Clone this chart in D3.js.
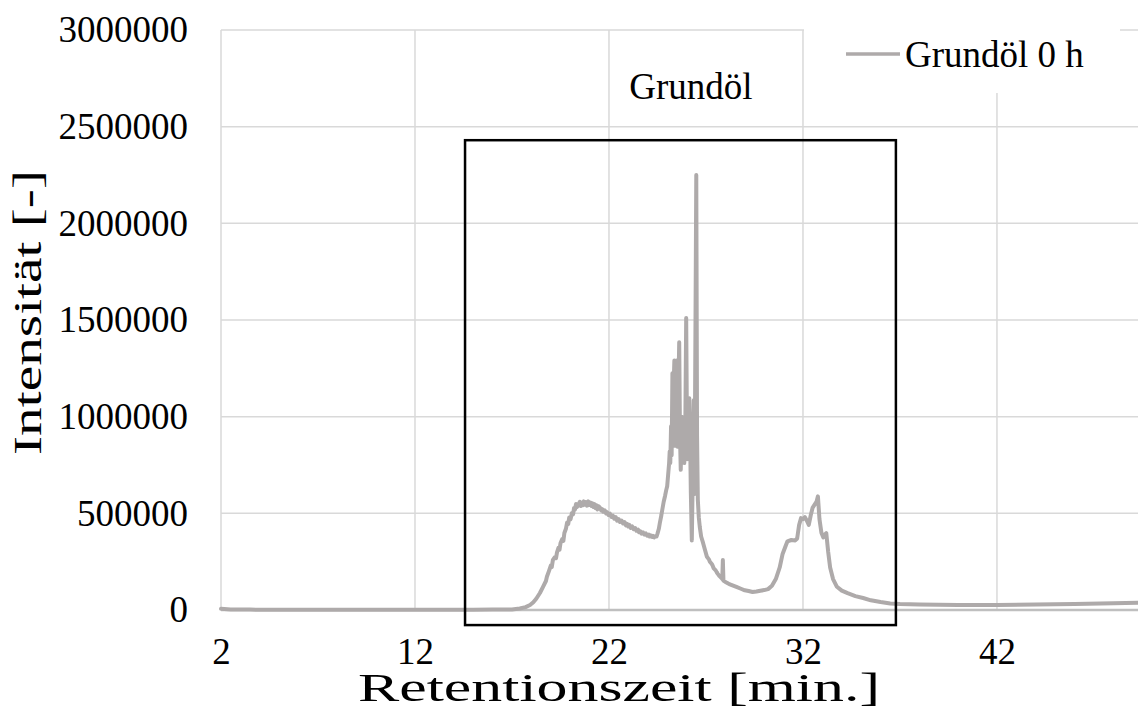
<!DOCTYPE html>
<html>
<head>
<meta charset="utf-8">
<script src="https://cdn.jsdelivr.net/npm/d3@7"></script>
<style>
  html, body { margin: 0; padding: 0; background: #ffffff; }
  svg { display: block; }
  text { font-family: "Liberation Serif", "Times New Roman", serif; fill: #000; }
</style>
</head>
<body>
<svg id="chart" width="1138" height="711"></svg>
<script>
// Chromatogram of the base oil at 0 h: retention time [min] and detector intensity
const retentionTime = [
  2.0, 2.5, 3.5, 5, 7, 9, 11, 13, 15, 16, 16.6, 17.0, 17.4, 17.7, 17.93, 18.1, 18.25, 18.44, 18.6, 18.75,
  18.8, 18.9, 19.0, 19.05, 19.11, 19.2, 19.27, 19.32, 19.4, 19.45, 19.5, 19.58, 19.65, 19.7, 19.78, 19.84,
  19.9, 19.95, 20.02, 20.09, 20.15, 20.2, 20.25, 20.3, 20.35, 20.42, 20.5, 20.55, 20.6, 20.66, 20.7, 20.77,
  20.82, 20.87, 20.93, 21.0, 21.05, 21.1, 21.15, 21.2, 21.25, 21.3, 21.36, 21.4, 21.47, 21.54, 21.6, 21.65,
  21.7, 21.78, 21.85, 21.9, 21.97, 22.05, 22.12, 22.2, 22.27, 22.35, 22.42, 22.5, 22.57, 22.65, 22.72, 22.8,
  22.87, 22.93, 23.0, 23.05, 23.12, 23.2, 23.27, 23.35, 23.42, 23.5, 23.55, 23.6, 23.68, 23.75, 23.82, 23.9,
  23.97, 24.05, 24.1, 24.15, 24.22, 24.27, 24.33, 24.4, 24.45, 24.5, 24.57, 24.63, 24.7, 24.75, 24.82, 24.89,
  24.95, 25.0, 25.05, 25.1, 25.13, 25.16, 25.2, 25.23, 25.27, 25.3, 25.33, 25.37, 25.41, 25.45, 25.49, 25.53,
  25.57, 25.62, 25.66, 25.7, 25.75, 25.79, 25.83, 25.88, 25.93, 25.98, 26.03, 26.07, 26.1, 26.14, 26.18,
  26.22, 26.27, 26.32, 26.37, 26.41, 26.46, 26.5, 26.54, 26.58, 26.63, 26.68, 26.75, 26.85, 26.95, 27.05,
  27.15, 27.2, 27.3, 27.35, 27.4, 27.5, 27.55, 27.6, 27.7, 27.8, 27.84, 27.87, 27.9, 28.0, 28.1, 28.2, 28.3,
  28.4, 28.5, 28.6, 28.8, 29.0, 29.2, 29.4, 29.6, 29.8, 30.0, 30.2, 30.4, 30.6, 30.8, 30.95, 31.1, 31.2,
  31.4, 31.6, 31.7, 31.8, 31.9, 32.0, 32.1, 32.2, 32.3, 32.4, 32.5, 32.6, 32.7, 32.77, 32.85, 32.95, 33.05,
  33.12, 33.2, 33.3, 33.4, 33.55, 33.75, 34.0, 34.3, 34.7, 35.1, 35.5, 36.0, 36.5, 37, 38, 40, 42, 44, 46,
  48, 49.3
];
const intensity = [
  6000, 3000, 2000, 1500, 1200, 1000, 900, 900, 1000, 2000, 3000, 3000, 8000, 15000, 26000, 40000, 58000, 88000, 120000, 150000,
  172000, 200000, 230000, 222000, 259000, 272000, 268000, 298000, 322000, 312000, 345000, 365000, 358000, 398000, 420000, 452000,
  445000, 478000, 470000, 502000, 495000, 528000, 520000, 548000, 532000, 545000, 560000, 538000, 555000, 542000, 562000, 545000,
  558000, 540000, 562000, 543000, 556000, 538000, 552000, 533000, 548000, 528000, 542000, 520000, 536000, 528000, 515000, 522000,
  508000, 515000, 500000, 506000, 492000, 498000, 482000, 488000, 472000, 480000, 462000, 470000, 455000, 462000, 448000, 455000,
  438000, 446000, 432000, 440000, 425000, 432000, 418000, 424000, 410000, 416000, 402000, 408000, 395000, 402000, 390000, 396000,
  384000, 390000, 380000, 386000, 378000, 384000, 376000, 382000, 380000, 395000, 420000, 455000, 490000, 520000, 560000, 590000,
  620000, 640000, 700000, 760000, 820000, 760000, 950000, 800000, 1225000, 900000, 1150000, 1290000, 850000, 1000000, 1290000, 845000,
  1100000, 1385000, 900000, 725000, 1000000, 800000, 950000, 760000, 900000, 1510000, 780000, 1000000, 800000, 1095000, 900000,
  605000, 360000, 700000, 1085000, 600000, 1500000, 2250000, 900000, 570000, 480000, 430000, 380000, 347000, 310000, 275000,
  262000, 250000, 238000, 228000, 215000, 205000, 196000, 188000, 175000, 165000, 160000, 258000, 152000, 145000, 140000, 134000, 130000,
  126000, 122000, 118000, 110000, 102000, 98000, 93000, 96000, 100000, 103000, 108000, 125000, 160000, 220000, 290000, 330000, 355000,
  362000, 360000, 370000, 440000, 475000, 470000, 480000, 462000, 440000, 490000, 530000, 545000, 560000, 588000, 470000, 400000, 375000,
  390000, 398000, 300000, 220000, 160000, 120000, 100000, 87000, 72000, 62000, 50000, 41000, 34000, 31000, 28000, 26000, 26000, 28000, 31000,
  35000, 38000
];

const seriesName = "Grundöl 0 h";
const regionLabel = "Grundöl";
const regionSpan = [14.58, 36.79];          // retention window of the base oil
const regionIntensity = [-78000, 2430000];  // vertical extent of the framing box
const xTicks = [2, 12, 22, 32, 42];
const yTicks = [0, 500000, 1000000, 1500000, 2000000, 2500000, 3000000];
const xTitle = "Retentionszeit [min.]";
const yTitle = "Intensität [-]";

const data = retentionTime.map((t, i) => ({ t, v: intensity[i] }));

const svg = d3.select("#chart");
const plot = { left: 221, right: 1138, top: 30, bottom: 610 };

const x = d3.scaleLinear().domain([2, 49.27]).range([plot.left, plot.right]);
const y = d3.scaleLinear().domain([0, 3000000]).range([plot.bottom, plot.top]);

const gridColor = "#d9d9d9";
const fontSize = 37;
const titleSize = 40;

// Gridlines
svg.append("g").selectAll("line").data(yTicks.filter(d => d > 0)).join("line")
  .attr("x1", plot.left).attr("x2", plot.right)
  .attr("y1", d => y(d)).attr("y2", d => y(d))
  .attr("stroke", gridColor).attr("stroke-width", 1.5);
svg.append("g").selectAll("line").data(xTicks).join("line")
  .attr("x1", d => x(d)).attr("x2", d => x(d))
  .attr("y1", plot.top).attr("y2", plot.bottom)
  .attr("stroke", gridColor).attr("stroke-width", 1.5);

// Horizontal axis line
svg.append("line")
  .attr("x1", plot.left).attr("x2", plot.right)
  .attr("y1", y(0)).attr("y2", y(0))
  .attr("stroke", "#bfbfbf").attr("stroke-width", 2.5);

// Axis labels
const yAxis = d3.axisLeft(y).tickValues(yTicks).tickSize(0).tickPadding(33).tickFormat(d3.format("d"));
const yg = svg.append("g").attr("transform", `translate(${plot.left},0)`).call(yAxis);
yg.select(".domain").remove();
yg.selectAll("text").style("font-size", fontSize + "px").style("font-family", "Liberation Serif");

const xAxis = d3.axisBottom(x).tickValues(xTicks).tickSize(0).tickPadding(28).tickFormat(d3.format("d"));
const xg = svg.append("g").attr("transform", `translate(0,${plot.bottom})`).call(xAxis);
xg.select(".domain").remove();
xg.selectAll("text").style("font-size", fontSize + "px").style("font-family", "Liberation Serif");

// Series line
const line = d3.line().x(d => x(d.t)).y(d => y(d.v));
svg.append("path").datum(data)
  .attr("d", line)
  .attr("fill", "none")
  .attr("stroke", "#aeaaaa")
  .attr("stroke-width", 4)
  .attr("stroke-linejoin", "round")
  .attr("stroke-linecap", "round");

// Box framing the base-oil region
svg.append("rect")
  .attr("x", x(regionSpan[0])).attr("y", y(regionIntensity[1]))
  .attr("width", x(regionSpan[1]) - x(regionSpan[0]))
  .attr("height", y(regionIntensity[0]) - y(regionIntensity[1]))
  .attr("fill", "none").attr("stroke", "#000").attr("stroke-width", 2.5);

svg.append("text")
  .attr("x", 691)
  .attr("y", 99)
  .attr("text-anchor", "middle")
  .style("font-size", fontSize + "px")
  .text(regionLabel);

// Legend
const lg = svg.append("g");
lg.append("rect").attr("x", 804).attr("y", 0).attr("width", 316).attr("height", 93).attr("fill", "#fff");
lg.append("line").attr("x1", 846).attr("x2", 900).attr("y1", 54).attr("y2", 54)
  .attr("stroke", "#aeaaaa").attr("stroke-width", 3.6);
lg.append("text").attr("x", 905).attr("y", 67).style("font-size", fontSize + "px").text(seriesName);

// Axis titles, set wide along their run
svg.append("text")
  .attr("x", 358).attr("y", 701)
  .attr("textLength", 522)
  .attr("lengthAdjust", "spacingAndGlyphs")
  .style("font-size", titleSize + "px")
  .text(xTitle);
svg.append("text")
  .attr("transform", "translate(41, 455) rotate(-90)")
  .attr("textLength", 285)
  .attr("lengthAdjust", "spacingAndGlyphs")
  .style("font-size", titleSize + "px")
  .text(yTitle);
</script>
</body>
</html>
